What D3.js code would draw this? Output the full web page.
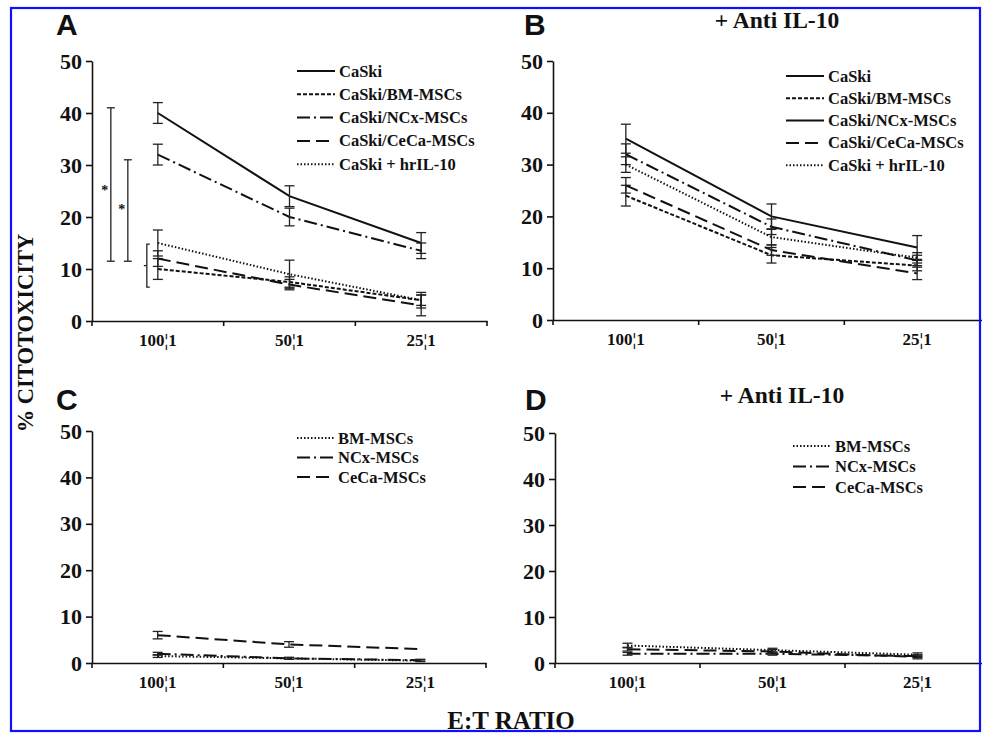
<!DOCTYPE html>
<html>
<head>
<meta charset="utf-8">
<script src="https://cdn.jsdelivr.net/npm/d3@7"></script>
<style>
  body { margin: 0; background: #fff; }
  svg { display: block; }
</style>
</head>
<body>
<svg width="982" height="734"></svg>
<script>
// E:T ratios and y ticks
const ratios = ["100\u00a61", "50\u00a61", "25\u00a61"]
const yTicks = [0, 10, 20, 30, 40, 50]

const namesAB = ["CaSki", "CaSki/BM-MSCs", "CaSki/NCx-MSCs", "CaSki/CeCa-MSCs", "CaSki + hrIL-10"]
const namesCD = ["BM-MSCs", "NCx-MSCs", "CeCa-MSCs"]

// panel A: CaSki alone / with MSCs / with hrIL-10
const meanA = [[40, 24, 15], [10, 7.5, 4], [32, 20, 13.5], [12, 7, 3], [15, 9, 4]]
const errA = [[2, 2, 2], [2, 1, 1], [2, 1.7, 1.5], [1.5, 1, 2], [2.5, 2.7, 1.5]]

// panel B: + anti IL-10
const meanB = [[35, 20, 14], [24, 12.5, 10.5], [32, 18, 11.5], [26, 13.5, 9], [30, 16, 12]]
const errB = [[2.8, 2.4, 2.3], [2, 1.5, 1], [2, 1.5, 1], [1.5, 1, 1.2], [1.5, 1.5, 1]]

// panel C: MSCs alone
const meanC = [[1.5, 1, 0.5], [2, 1, 0.6], [6, 4, 3]]
const errC = [[0.3, 0.2, 0.2], [0.3, 0.2, 0.2], [0.8, 0.6, 0]]

// panel D: MSCs + anti IL-10
const meanD = [[3.8, 2.8, 1.8], [2, 2, 1.5], [3, 2.5, 1.3]]
const errD = [[0.5, 0.4, 0.4], [0.3, 0.3, 0.3], [0.4, 0.4, 0.4]]

// significance marks in A (from-to values, star height)
const sigA = [[11.5, 41], [11.5, 31]]
const starA = [25.5, 22]
const bracketA = [6.5, 14.8]

const dashes = {
  "CaSki": null,
  "CaSki/BM-MSCs": "4,2",
  "CaSki/NCx-MSCs": "13,4,2,4",
  "CaSki/CeCa-MSCs": "13,6",
  "CaSki + hrIL-10": "1.5,2",
  "BM-MSCs": "1.5,2",
  "NCx-MSCs": "13,4,2,4",
  "CeCa-MSCs": "13,6"
}

const serif = '"Liberation Serif", "Times New Roman", serif'
const svg = d3.select("svg")

function drawPanel(p) {
  const x = d3.scaleBand().domain(ratios).range([p.x0, p.x1])
  const y = d3.scaleLinear().domain([0, 50]).range([p.yb, p.yt])
  const g = svg.append("g")

  const yAxis = g.append("g")
    .attr("transform", `translate(${p.x0},0)`)
    .call(d3.axisLeft(y).tickValues(yTicks).tickSize(6).tickSizeOuter(0).tickPadding(4))
  yAxis.attr("font-family", null)
  yAxis.selectAll("text").style("font-family", serif).style("font-weight", "bold").attr("font-size", 22).attr("fill", "#111")
  yAxis.selectAll("line, path").attr("stroke", "#111").attr("stroke-width", 1.6)

  const xAxis = g.append("g")
    .attr("transform", `translate(0,${p.yb})`)
    .call(d3.axisBottom(x).tickSize(0).tickSizeOuter(0).tickPadding(13))
  xAxis.attr("font-family", null)
  xAxis.selectAll("text").style("font-family", serif).style("font-weight", "bold").attr("font-size", 17).attr("fill", "#111")
  xAxis.select("path").attr("stroke", "#111").attr("stroke-width", 1.6)
  // boundary ticks
  const edges = ratios.map(r => x(r)).concat([p.x0 + x.step() * ratios.length])
  g.selectAll(".edge").data(edges).enter().append("line")
    .attr("x1", d => d).attr("x2", d => d)
    .attr("y1", p.yb).attr("y2", p.yb + 5)
    .attr("stroke", "#111").attr("stroke-width", 1.6)

  const cx = r => x(r) + x.bandwidth() / 2
  const line = d3.line().x((d, i) => cx(ratios[i])).y(d => y(d))

  p.names.forEach((name, si) => {
    g.append("path")
      .datum(p.mean[si])
      .attr("d", line)
      .attr("fill", "none")
      .attr("stroke", "#111")
      .attr("stroke-width", 2)
      .attr("stroke-dasharray", dashes[name])

    p.mean[si].forEach((m, i) => {
      const e = p.err[si][i]
      if (!e) return
      const xx = cx(ratios[i])
      const eb = g.append("g").attr("stroke", "#222").attr("stroke-width", 1.3)
      eb.append("line").attr("x1", xx).attr("x2", xx).attr("y1", y(m - e)).attr("y2", y(m + e))
      ;[m - e, m + e].forEach(v => {
        eb.append("line").attr("x1", xx - 5).attr("x2", xx + 5).attr("y1", y(v)).attr("y2", y(v))
      })
    })
  })

  // legend
  const lg = g.append("g")
  p.names.forEach((name, si) => {
    const ly = p.legY + si * p.legStep
    const dash = p.legendDash && p.legendDash[si] !== undefined ? p.legendDash[si] : dashes[name]
    lg.append("line")
      .attr("x1", p.legX).attr("x2", p.legX + p.legLen)
      .attr("y1", ly).attr("y2", ly)
      .attr("stroke", "#111").attr("stroke-width", 2)
      .attr("stroke-dasharray", dash)
    lg.append("text")
      .attr("x", p.legX + p.legLen + 4).attr("y", ly + 5.5)
      .style("font-family", serif).style("font-weight", "bold").attr("font-size", 16.5)
      .attr("fill", "#111")
      .text(name)
  })

  // panel letter
  g.append("text").attr("x", p.letterX).attr("y", p.letterY)
    .style("font-family", '"Liberation Sans", Arial, sans-serif').style("font-weight", "bold")
    .attr("font-size", 30).attr("fill", "#111").text(p.letter)

  if (p.title) {
    g.append("text").attr("x", p.titleX).attr("y", p.letterY - 7)
      .attr("text-anchor", "middle")
      .style("font-family", serif).style("font-weight", "bold").attr("font-size", 23.5)
      .attr("fill", "#111").text(p.title)
  }
  return { x, y, g, cx }
}

const A = drawPanel({
  x0: 92, x1: 487, yt: 61, yb: 321,
  names: namesAB, mean: meanA, err: errA,
  legX: 297, legY: 71, legStep: 23.3, legLen: 38,
  letter: "A", letterX: 56, letterY: 35
})

// the legend of B draws NCx-MSCs as a solid line
drawPanel({
  x0: 553, x1: 990, yt: 61, yb: 320,
  names: namesAB, mean: meanB, err: errB,
  legendDash: [undefined, undefined, null, undefined, undefined],
  legX: 786, legY: 76, legStep: 22.3, legLen: 38,
  letter: "B", letterX: 524, letterY: 35,
  title: "+ Anti IL-10", titleX: 777
})

drawPanel({
  x0: 92, x1: 486, yt: 431, yb: 663,
  names: namesCD, mean: meanC, err: errC,
  legX: 297, legY: 438, legStep: 19.5, legLen: 37,
  letter: "C", letterX: 56, letterY: 410
})

drawPanel({
  x0: 555, x1: 990, yt: 433, yb: 663,
  names: namesCD, mean: meanD, err: errD,
  legX: 793, legY: 446, legStep: 20.5, legLen: 38,
  letter: "D", letterX: 525, letterY: 410,
  title: "+ Anti IL-10", titleX: 782
})

// significance marks in panel A
const x0A = A.cx(ratios[0])
const sg = A.g.append("g").attr("stroke", "#222").attr("stroke-width", 1.3)
sigA.forEach((s, i) => {
  const xx = x0A - 47 + i * 17
  sg.append("line").attr("x1", xx).attr("x2", xx).attr("y1", A.y(s[0])).attr("y2", A.y(s[1]))
  s.forEach(v => sg.append("line").attr("x1", xx - 4).attr("x2", xx + 4).attr("y1", A.y(v)).attr("y2", A.y(v)))
  A.g.append("text").attr("x", xx - 6).attr("y", A.y(starA[i]) + 7)
    .attr("text-anchor", "middle").style("font-family", serif).style("font-weight", "bold")
    .attr("font-size", 14).attr("fill", "#111").text("*")
})
const bx = x0A - 11
A.g.append("path")
  .attr("d", `M${bx + 3},${A.y(bracketA[1])}H${bx}V${A.y(bracketA[0])}H${bx + 3}M${bx},${A.y((bracketA[0] + bracketA[1]) / 2)}h-3`)
  .attr("fill", "none").attr("stroke", "#222").attr("stroke-width", 1.3)

// shared axis titles
svg.append("text")
  .attr("transform", "translate(33,333) rotate(-90)")
  .attr("text-anchor", "middle")
  .style("font-family", serif).style("font-weight", "bold").attr("font-size", 22.5)
  .attr("fill", "#111").text("% CITOTOXICITY")

svg.append("text")
  .attr("x", 511).attr("y", 729)
  .attr("text-anchor", "middle")
  .style("font-family", serif).style("font-weight", "bold").attr("font-size", 25)
  .attr("fill", "#111").text("E:T RATIO")

// frame
svg.append("rect")
  .attr("x", 11).attr("y", 8).attr("width", 969).attr("height", 723)
  .attr("fill", "none").attr("stroke", "#1010ff").attr("stroke-width", 2.2)
</script>
</body>
</html>
